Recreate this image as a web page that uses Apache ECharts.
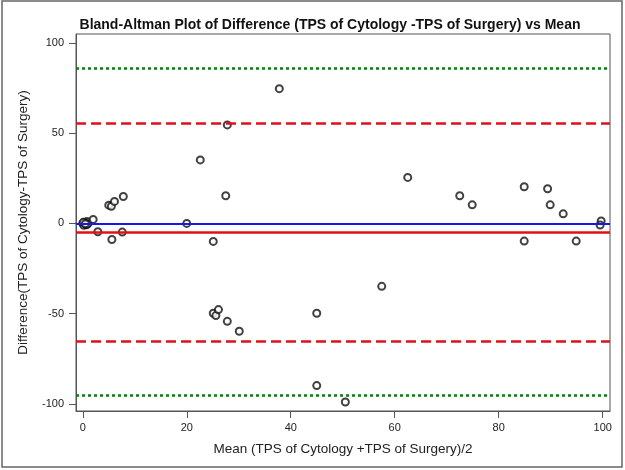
<!DOCTYPE html>
<html>
<head>
<meta charset="utf-8">
<script src="https://cdn.jsdelivr.net/npm/echarts@6/dist/echarts.min.js"></script>
<style>
  html, body { margin: 0; padding: 0; background: #fff; }
  #chart { width: 625px; height: 470px; }
</style>
</head>
<body>
<div id="chart"></div>
<script>
// mean of the two TPS readings (x) and their difference (y)
const meanVals = [0, 0.3, 0.6, 1, 0.5, 0.2, 0.8, 0.4, 0.7, 0.1, 0.9, 0.5,
  2.0, 2.9, 5.0, 5.5, 5.6, 6.1, 7.6, 7.8, 20, 22.6, 25.1, 25.1, 25.6, 26.1,
  27.5, 27.8, 27.8, 30.1, 37.8, 45, 45, 50.5, 57.5, 62.5, 72.5, 74.9,
  84.9, 84.9, 89.4, 89.9, 92.4, 94.9, 99.7, 99.5];
const diffVals = [0, 0.5, -0.5, 0, 0, -1, 1, 0.3, -0.8, 0.6, -0.3, -0.2,
  2.2, -4.6, 10.1, 9.5, -8.9, 12.2, -4.8, 14.9, 0, 35.2, -10, -49.8, -51.1, -47.8,
  15.3, 54.6, -54.3, -59.8, 74.7, -49.8, -89.9, -99, -34.9, 25.5, 15.3, 10.3,
  20.3, -9.8, 19.2, 10.3, 5.3, -9.8, 1.3, -0.9];

const xTicks = [0, 20, 40, 60, 80, 100];
const yTicks = [-100, -50, 0, 50, 100];

const zeroLine = 0;
const meanDiff = -4.8;
const loaLimits = [55.7, -65.3];
const outerLimits = [85.8, -95.1];

const points = meanVals.map((m, i) => [m, diffVals[i]]);

const chart = echarts.init(document.getElementById('chart'), null, { renderer: 'canvas' });

const font = 'Liberation Sans, Arial, sans-serif';

const hLine = (val, color, type, width) => ({
  yAxis: val,
  lineStyle: { color: color, type: type, width: width }
});

const option = {
  backgroundColor: '#fff',
  animation: false,
  title: {
    text: 'Bland-Altman Plot of Difference (TPS of Cytology -TPS of Surgery) vs Mean',
    left: 325,
    textAlign: 'center',
    top: 13,
    textStyle: { fontFamily: font, fontSize: 14, fontWeight: 'bold', color: '#111' }
  },
  grid: {
    left: 76, right: 15, top: 34, bottom: 59,
    show: true, borderColor: '#555', borderWidth: 1, backgroundColor: 'transparent'
  },
  xAxis: {
    type: 'value',
    min: -1.3, max: 101.4,
    name: 'Mean (TPS of Cytology +TPS of Surgery)/2',
    nameLocation: 'middle',
    nameGap: 31,
    nameTextStyle: { fontFamily: font, fontSize: 13.5, color: '#222' },
    splitLine: { show: false },
    axisLine: { onZero: false, lineStyle: { color: '#555' } },
    axisTick: { show: true, customValues: xTicks, length: 7, lineStyle: { color: '#555' } },
    axisLabel: { customValues: xTicks, fontFamily: font, fontSize: 11, color: '#222', margin: 11 }
  },
  yAxis: {
    type: 'value',
    min: -104, max: 105,
    name: 'Difference(TPS of Cytology-TPS of Surgery)',
    nameLocation: 'middle',
    nameGap: 46,
    nameTextStyle: { fontFamily: font, fontSize: 13.5, color: '#222' },
    splitLine: { show: false },
    axisLine: { onZero: false, lineStyle: { color: '#555' } },
    axisTick: { show: true, customValues: yTicks, length: 7, lineStyle: { color: '#555' } },
    axisLabel: { customValues: yTicks, fontFamily: font, fontSize: 11, color: '#222', margin: 12 }
  },
  series: [
    {
      type: 'scatter',
      data: points,
      symbol: 'emptyCircle',
      symbolSize: 7,
      z: 3,
      itemStyle: { color: '#111', borderColor: '#111', borderWidth: 1 },
      markLine: {
        silent: true,
        symbol: 'none',
        label: { show: false },
        animation: false,
        data: [
          hLine(outerLimits[0], '#0f7a12', [3, 3], 2.5),
          hLine(outerLimits[1], '#0f7a12', [3, 3], 2.5),
          hLine(loaLimits[0], '#e0101a', [10, 5], 2.5),
          hLine(loaLimits[1], '#e0101a', [10, 5], 2.5),
          hLine(zeroLine, '#1818e0', 'solid', 2),
          hLine(meanDiff, '#e0101a', 'solid', 2.5)
        ]
      }
    }
  ],
  graphic: [
    {
      type: 'rect',
      shape: { x: 2, y: 1, width: 620, height: 466 },
      style: { fill: 'none', stroke: '#666', lineWidth: 1.5 },
      silent: true
    }
  ]
};

chart.setOption(option);
</script>
</body>
</html>
